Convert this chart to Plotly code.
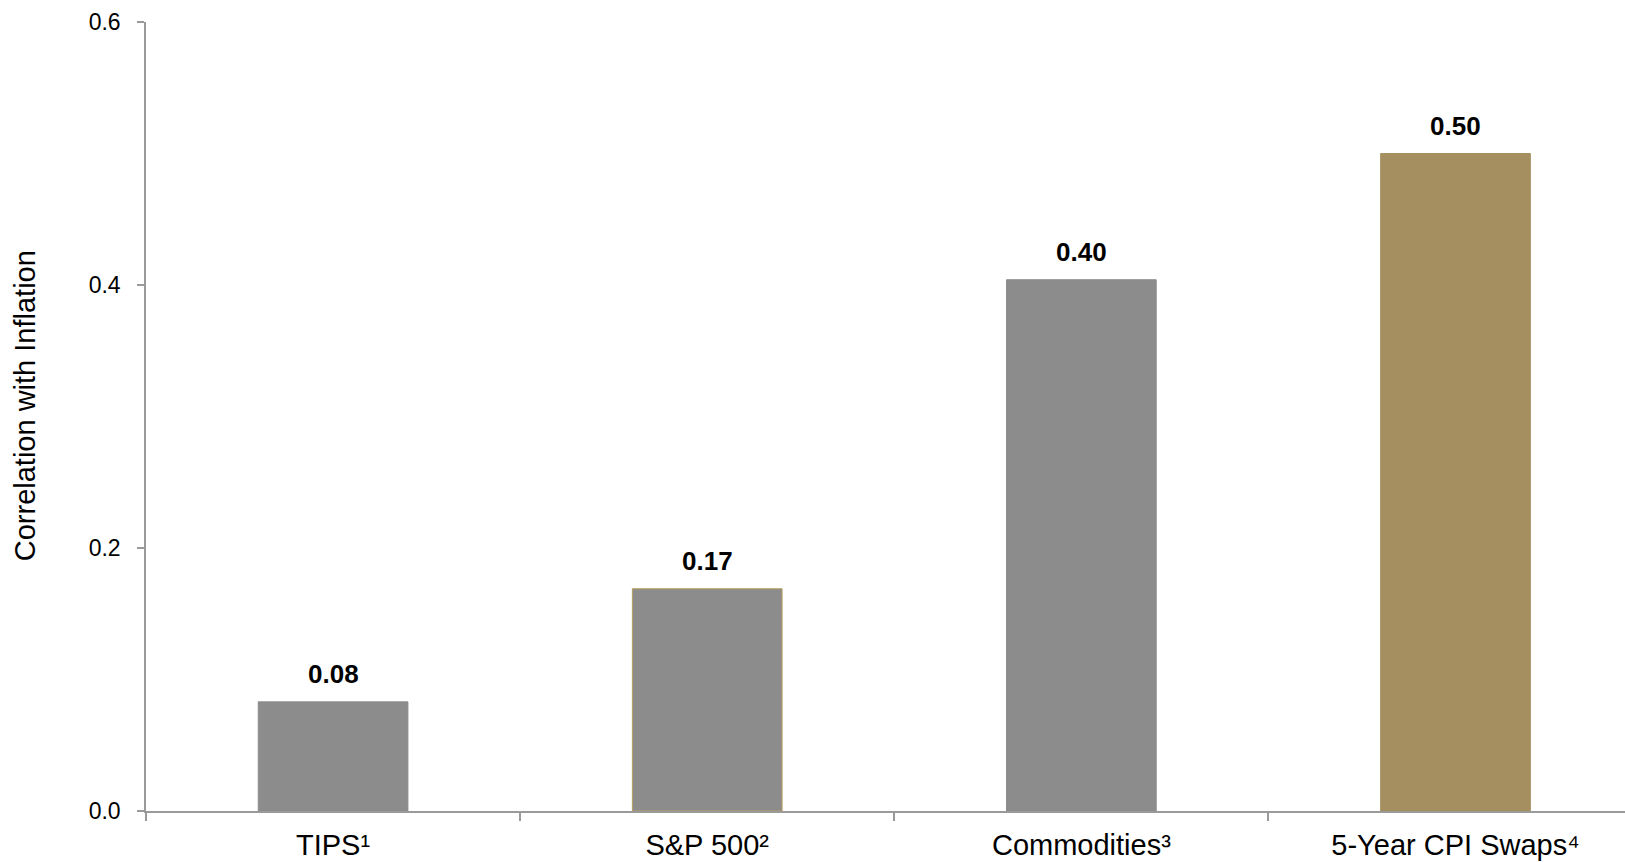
import plotly.graph_objects as go

categories = ["TIPS¹", "S&P 500²", "Commodities³", "5-Year CPI Swaps⁴"]
values = [0.083, 0.169, 0.404, 0.50]
value_labels = ["0.08", "0.17", "0.40", "0.50"]
bar_colors = ["#8C8C8C", "#8C8C8C", "#8C8C8C", "#A58E5F"]
outline_colors = ["#8C8C8C", "#B59C5C", "#8C8C8C", "#A58E5F"]
y_ticks = [0.0, 0.2, 0.4, 0.6]
y_title = "Correlation with Inflation"

FONT = "Liberation Sans, Arial, sans-serif"
AXIS_COLOR = "#9A9A9A"

fig = go.Figure()
fig.add_trace(go.Bar(
    x=categories,
    y=values,
    marker=dict(color=bar_colors, line=dict(color=outline_colors, width=1)),
    width=0.4,
    hoverinfo="skip",
    showlegend=False,
))

for c, v, t in zip(categories, values, value_labels):
    fig.add_annotation(
        x=c, y=v, text=t, showarrow=False,
        yanchor="bottom", yshift=11,
        font=dict(family=FONT, size=26, color="#000000", weight="bold"),
    )

# y-axis title placed as rotated annotation
fig.add_annotation(
    xref="paper", yref="paper", x=0, y=0.513,
    xanchor="center", yanchor="middle", xshift=-121,
    text=y_title, textangle=-90, showarrow=False,
    font=dict(family=FONT, size=29, color="#000000"),
)

fig.update_layout(
    width=1625, height=862,
    margin=dict(l=146, r=0, t=22, b=51, pad=0),
    paper_bgcolor="white", plot_bgcolor="white",
    font=dict(family=FONT, color="#000000"),
)

fig.update_xaxes(
    type="category",
    range=[-0.5, 3.453],
    showline=True, linecolor=AXIS_COLOR, linewidth=1.5,
    ticks="outside", tickson="boundaries", ticklen=8, tickcolor=AXIS_COLOR, tickwidth=1.5,
    tickfont=dict(family=FONT, size=29, color="#000000"),
    ticklabelstandoff=7,
    showgrid=False, zeroline=False,
)

fig.update_yaxes(
    range=[0, 0.6],
    tickvals=y_ticks,
    ticktext=[f"{v:.1f}" for v in y_ticks],
    showline=True, linecolor=AXIS_COLOR, linewidth=1.5,
    ticks="outside", ticklen=7, tickcolor=AXIS_COLOR, tickwidth=1.5,
    tickfont=dict(family=FONT, size=23, color="#000000"),
    ticklabelstandoff=12,
    showgrid=False, zeroline=False,
)

fig.write_html("out.html")
